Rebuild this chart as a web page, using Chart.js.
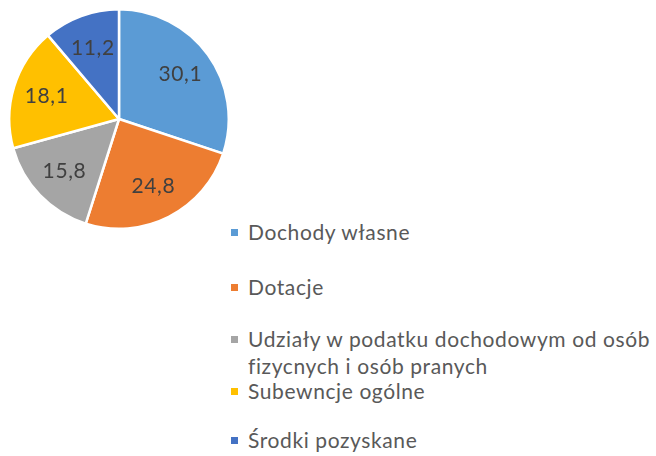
<!DOCTYPE html>
<html>
<head>
<meta charset="utf-8">
<script src="https://cdn.jsdelivr.net/npm/chart.js@4/dist/chart.umd.min.js"></script>
<style>
  body { margin: 0; background: #fff; width: 656px; height: 456px; overflow: hidden; position: relative; }
  #pieBox { position: absolute; left: 8px; top: 8px; width: 222px; height: 222px; }
  .leg { position: absolute; left: 248px; font-family: Lato, sans-serif; font-size: 21px; line-height: 27px; letter-spacing: 0.6px; color: #595959; white-space: nowrap; }
  .leg i { position: absolute; left: -17px; top: 11px; width: 7px; height: 7px; }
</style>
</head>
<body>
<div id="pieBox"><canvas id="pieChart"></canvas></div>
<div id="legend"></div>
<script>
const categories = ['Dochody własne', 'Dotacje', ['Udziały w podatku dochodowym od osób', 'fizycnych i osób pranych'], 'Subewncje ogólne', 'Środki pozyskane'];
const values = [30.1, 24.8, 15.8, 18.1, 11.2];
const valueLabels = ['30,1', '24,8', '15,8', '18,1', '11,2'];
const colors = ['#5B9BD5', '#ED7D31', '#A5A5A5', '#FFC000', '#4472C4'];
const legendTops = [218, 273, 325, 377, 426];

// values written inside the slices
const sliceLabels = {
    id: 'sliceLabels',
    afterDatasetsDraw(chart) {
        const ctx = chart.ctx;
        const meta = chart.getDatasetMeta(0);
        ctx.save();
        ctx.font = "21px Lato, sans-serif";
        ctx.letterSpacing = '0.6px';
        ctx.fillStyle = '#404040';
        ctx.textAlign = 'center';
        ctx.textBaseline = 'middle';
        meta.data.forEach(function(arc, i) {
            const p = arc.getProps(['x', 'y', 'startAngle', 'endAngle', 'outerRadius'], true);
            const mid = (p.startAngle + p.endAngle) / 2;
            const r = p.outerRadius * 0.69;
            ctx.fillText(valueLabels[i], p.x + Math.cos(mid) * r, p.y + Math.sin(mid) * r);
        });
        ctx.restore();
    }
};

new Chart(document.getElementById('pieChart'), {
    type: 'pie',
    data: {
        labels: categories,
        datasets: [{
            data: values,
            backgroundColor: colors,
            borderColor: '#ffffff',
            borderWidth: 2.5
        }]
    },
    options: {
        responsive: true,
        maintainAspectRatio: false,
        animation: false,
        layout: { padding: 0 },
        plugins: { legend: { display: false }, tooltip: { enabled: false } }
    },
    plugins: [sliceLabels]
});

// legend on the right, one block per category
const legend = document.getElementById('legend');
categories.forEach(function(c, i) {
    const d = document.createElement('div');
    d.className = 'leg';
    d.style.top = legendTops[i] + 'px';
    const m = document.createElement('i');
    m.style.background = colors[i];
    d.appendChild(m);
    (Array.isArray(c) ? c : [c]).forEach(function(line, j) {
        if (j) d.appendChild(document.createElement('br'));
        d.appendChild(document.createTextNode(line));
    });
    legend.appendChild(d);
});
</script>
</body>
</html>
